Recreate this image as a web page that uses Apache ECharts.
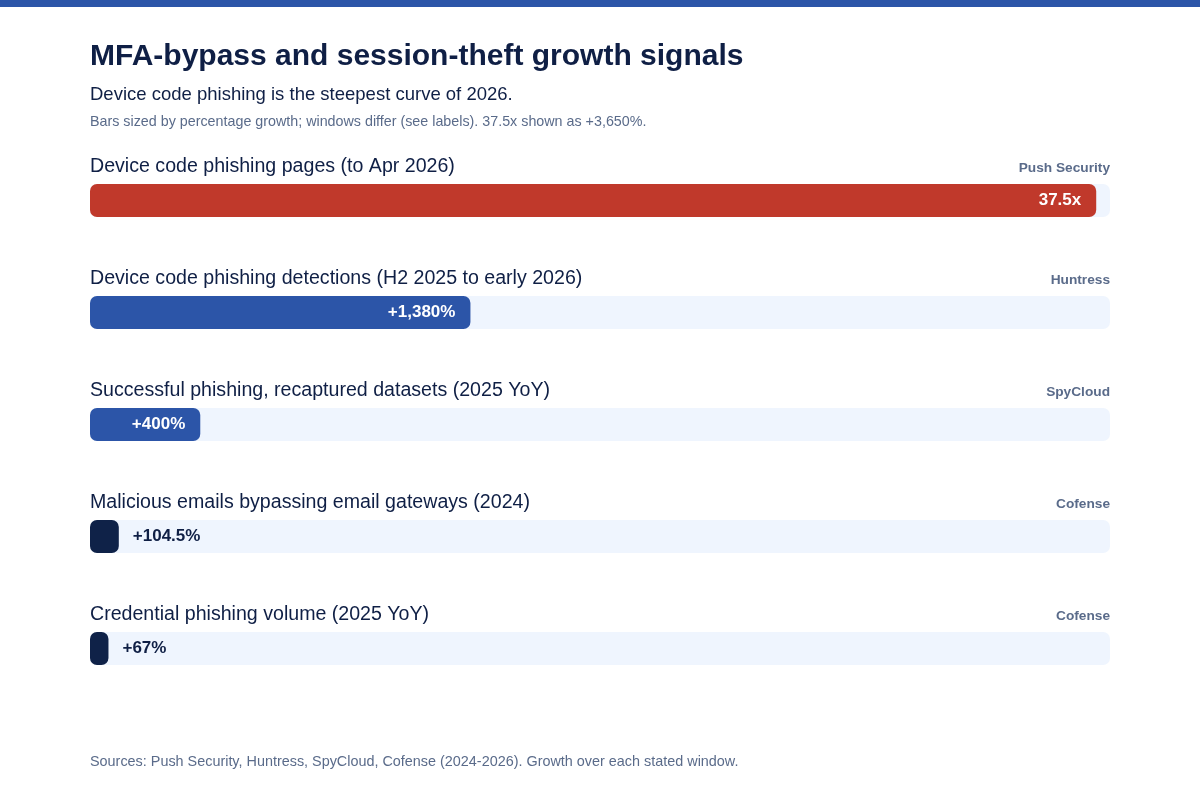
<!DOCTYPE html>
<html>
<head>
<meta charset="utf-8">
<script src="https://cdn.jsdelivr.net/npm/echarts@6/dist/echarts.min.js"></script>
<style>
  html, body { margin: 0; padding: 0; background: #fff; }
  #chart { width: 1200px; height: 800px; }
</style>
</head>
<body>
<div id="chart"></div>
<script>
// data
const categories = [
  'Device code phishing pages (to Apr 2026)',
  'Device code phishing detections (H2 2025 to early 2026)',
  'Successful phishing, recaptured datasets (2025 YoY)',
  'Malicious emails bypassing email gateways (2024)',
  'Credential phishing volume (2025 YoY)'
];
const sources = ['Push Security', 'Huntress', 'SpyCloud', 'Cofense', 'Cofense'];
const growthPct = [3650, 1380, 400, 104.5, 67];
const valueLabels = ['37.5x', '+1,380%', '+400%', '+104.5%', '+67%'];
const scaleMax = 3700;

const FONT = '"Liberation Sans", Arial, Helvetica, sans-serif';
const NAVY = '#0f1f45';
const GREY = '#5a6b8a';
const barColors = ['#c0392b', '#2c55a8', '#2c55a8', '#0f2248', '#0f2248'];

const chart = echarts.init(document.getElementById('chart'));

const valueData = growthPct.map(function (v, i) {
  const inside = i < 3;
  return {
    value: v,
    itemStyle: { color: barColors[i] },
    label: inside
      ? { position: 'insideRight', distance: 15, color: '#ffffff' }
      : { position: 'right', distance: 14, color: NAVY }
  };
});

chart.setOption({
  backgroundColor: '#ffffff',
  graphic: [{
    type: 'rect',
    shape: { x: 0, y: 0, width: 1200, height: 7 },
    style: { fill: '#2c55a8' }
  }],
  title: [
    {
      text: 'MFA-bypass and session-theft growth signals',
      left: 90, top: 42, padding: 0,
      textStyle: { fontFamily: FONT, fontSize: 30, fontWeight: 'bold', color: NAVY }
    },
    {
      text: 'Device code phishing is the steepest curve of 2026.',
      left: 90, top: 85, padding: 0,
      textStyle: { fontFamily: FONT, fontSize: 18.5, fontWeight: 'normal', color: NAVY }
    },
    {
      text: 'Bars sized by percentage growth; windows differ (see labels). 37.5x shown as +3,650%.',
      left: 90, top: 115, padding: 0,
      textStyle: { fontFamily: FONT, fontSize: 14.3, fontWeight: 'normal', color: GREY }
    },
    {
      text: 'Sources: Push Security, Huntress, SpyCloud, Cofense (2024-2026). Growth over each stated window.',
      left: 90, top: 755, padding: 0,
      textStyle: { fontFamily: FONT, fontSize: 14.4, fontWeight: 'normal', color: GREY }
    }
  ],
  grid: { left: 90, right: 90, top: 144.5, bottom: 95.5, containLabel: false },
  xAxis: {
    type: 'value', min: 0, max: scaleMax, show: false
  },
  yAxis: {
    type: 'category', data: categories, inverse: true, show: false
  },
  series: [
    {
      name: 'track',
      type: 'bar',
      barWidth: 33,
      barGap: '-100%',
      silent: true,
      data: categories.map(function () { return scaleMax; }),
      itemStyle: { color: '#eff5fe', borderRadius: 7 },
      label: {
        show: true,
        position: [0, -17],
        align: 'left',
        verticalAlign: 'middle',
        formatter: function (p) { return categories[p.dataIndex]; },
        fontFamily: FONT, fontSize: 19.6, color: NAVY
      }
    },
    {
      name: 'source',
      type: 'bar',
      barWidth: 33,
      barGap: '-100%',
      silent: true,
      data: categories.map(function () { return scaleMax; }),
      itemStyle: { color: 'rgba(0,0,0,0)' },
      label: {
        show: true,
        position: ['100%', -16],
        align: 'right',
        verticalAlign: 'middle',
        formatter: function (p) { return sources[p.dataIndex]; },
        fontFamily: FONT, fontSize: 13.7, fontWeight: 'bold', color: GREY
      }
    },
    {
      name: 'growth',
      type: 'bar',
      barWidth: 33,
      barGap: '-100%',
      data: valueData,
      itemStyle: { borderRadius: 7 },
      label: {
        show: true,
        formatter: function (p) { return valueLabels[p.dataIndex]; },
        fontFamily: FONT, fontSize: 17, fontWeight: 'bold'
      }
    }
  ]
});
</script>
</body>
</html>
